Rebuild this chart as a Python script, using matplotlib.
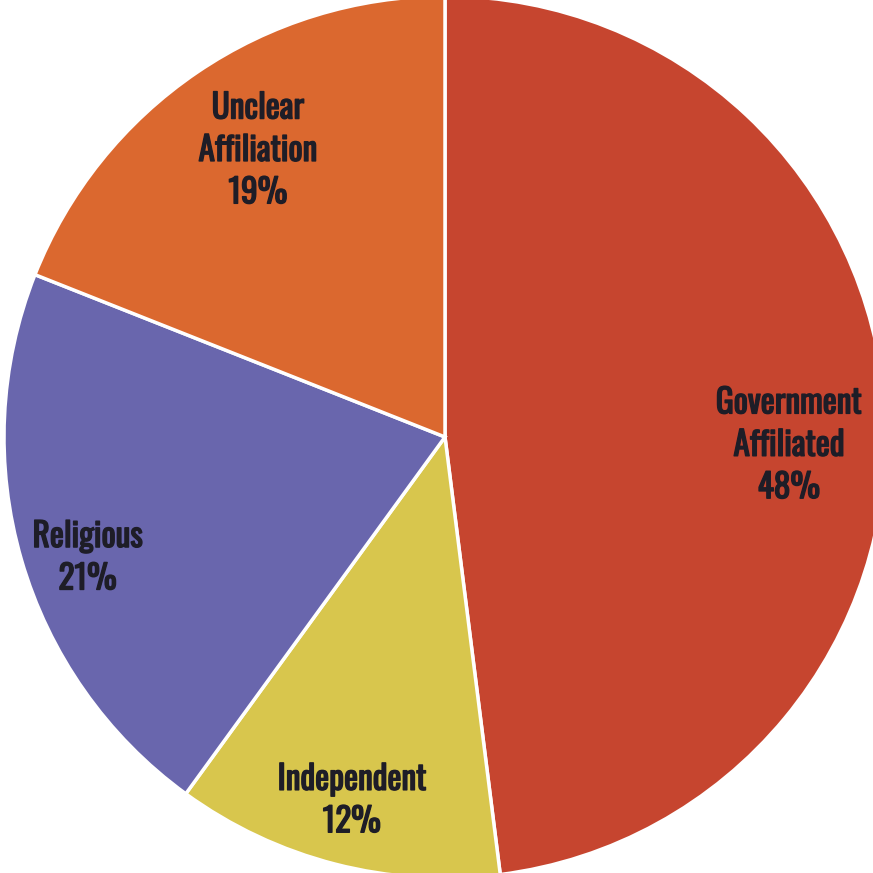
import numpy as np
import matplotlib
matplotlib.use("Agg")
import matplotlib.pyplot as plt
import matplotlib.patheffects as pe
from matplotlib import font_manager

# data (clockwise from 12 o'clock)
labels = ["Government\nAffiliated", "Independent", "Religious", "Unclear\nAffiliation"]
shares = [48, 12, 21, 19]
colors = ["#c6452f", "#d8c64d", "#6966ad", "#db682f"]

# label placement: fraction of radius, angle nudge from wedge middle (deg)
label_r = [0.78, 0.85, 0.855, 0.777]
label_dang = [-4.9, 0.0, 2.4, -1.1]

names = {f.name for f in font_manager.fontManager.ttflist}
prefs = ["Oswald", "Fira Sans Extra Condensed", "Barlow Condensed", "Roboto Condensed",
         "Liberation Sans Narrow", "DejaVu Sans"]
family = [p for p in prefs if p in names][0]

W = H = 873
fig = plt.figure(figsize=(W / 100, H / 100), dpi=100)
ax = fig.add_axes([0, 0, 1, 1])

cx, cy, R = 445, H - 437, 441
wedges, _ = ax.pie(shares, colors=colors, startangle=90, counterclock=False,
                   center=(cx, cy), radius=R, frame=True,
                   wedgeprops=dict(edgecolor="white", linewidth=2.5))
ax.set_xlim(0, W)
ax.set_ylim(0, H)
ax.set_aspect("equal")
ax.axis("off")

ink = "#1e1d27"
for w, lab, v, fr, da in zip(wedges, labels, shares, label_r, label_dang):
    mid = np.deg2rad((w.theta1 + w.theta2) / 2 + da)
    x = cx + fr * R * np.cos(mid)
    y = cy + fr * R * np.sin(mid)
    ax.text(x, y, f"{lab}\n{v}%", ha="center", va="center", fontsize=24,
            family=family, fontweight=500, color=ink, linespacing=1.3,
            path_effects=[pe.withStroke(linewidth=1.0, foreground=ink)])

fig.savefig("out.png", dpi=100)
